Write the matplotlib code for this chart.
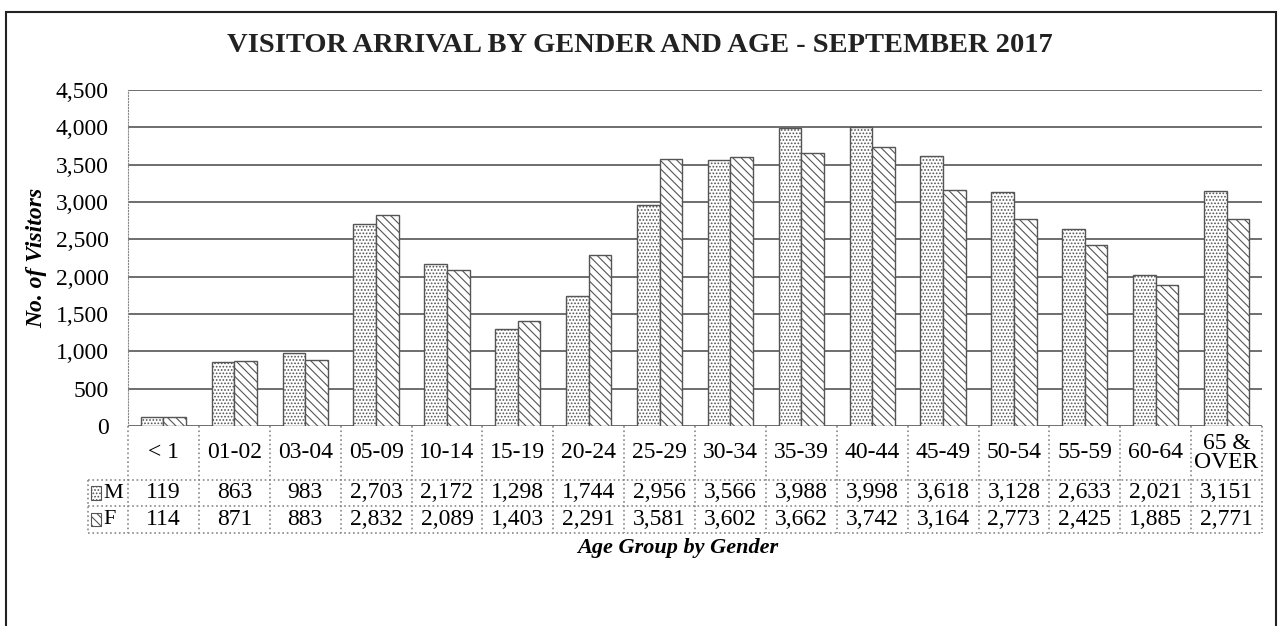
import numpy as np
import matplotlib.pyplot as plt
from matplotlib.patches import Rectangle

# Visitor arrival by gender and age, Sept 2017

categories = ['< 1', '01-02', '03-04', '05-09', '10-14', '15-19', '20-24', '25-29',
              '30-34', '35-39', '40-44', '45-49', '50-54', '55-59', '60-64', '65 &\nOVER']
male = [119, 863, 983, 2703, 2172, 1298, 1744, 2956, 3566, 3988, 3998, 3618, 3128, 2633, 2021, 3151]
female = [114, 871, 883, 2832, 2089, 1403, 2291, 3581, 3602, 3662, 3742, 3164, 2773, 2425, 1885, 2771]
series_names = ['M', 'F']

plt.rcParams['font.family'] = ['Liberation Serif', 'DejaVu Serif']
plt.rcParams['hatch.linewidth'] = 0.8

fig = plt.figure(figsize=(12.79, 6.26), dpi=100)
ax = fig.add_axes([128/1279, 1-426/626, 1134/1279, 336/626])

x = np.arange(len(categories))
w = 0.32
hatches = ['.....', '\\\\\\\\']
for i, (vals, h) in enumerate(zip([male, female], hatches)):
    ax.bar(x + (i - 0.5)*w, vals, w, facecolor='white', edgecolor='#555555',
           hatch=h, linewidth=1.0, zorder=3)

ax.set_xlim(-0.5, len(categories)-0.5)
ax.set_ylim(0, 4500)
ax.set_yticks(np.arange(0, 4501, 500))
ax.set_yticklabels([f'{v:,}' for v in range(0, 4501, 500)], fontsize=17)
ax.set_xticks([])
ax.tick_params(axis='y', length=0, pad=14)
ax.grid(axis='y', color='#555555', linewidth=1.2, zorder=0)
for s in ['top', 'right', 'bottom']:
    ax.spines[s].set_visible(False)
ax.spines['left'].set_color('#888888')
ax.spines['left'].set_linestyle(':')

ax.set_ylabel('No. of Visitors', fontsize=17, fontstyle='italic', fontweight='bold', labelpad=6)
fig.text(0.5, 1-45/626, 'VISITOR ARRIVAL BY GENDER AND AGE - SEPTEMBER 2017',
         ha='center', va='center', fontsize=20.5, fontweight='bold', color='#222222')

# data table below plot (axes coords for y, data coords for x)
tr = ax.get_xaxis_transform()
h0 = 0
h1 = -54/336
h2 = -80/336
h3 = -107/336
xl = -0.5 - 40/1134*len(categories)
lc = '#888888'
ls = ':'
for yy in [h1, h2, h3]:
    ax.plot([xl, len(categories)-0.5], [yy, yy], color=lc, lw=1.2,
            ls=ls, transform=tr, clip_on=False)
ax.plot([xl, xl], [h1, h3], color=lc, lw=1.2, ls=ls, transform=tr, clip_on=False)
for k in range(len(categories)+1):
    ax.plot([k-0.5, k-0.5], [h0, h3], color=lc, lw=1.2, ls=ls, transform=tr, clip_on=False)

for k, c in enumerate(categories):
    ax.text(k, (h0+h1)/2, c, ha='center', va='center', fontsize=17, transform=tr,
            linespacing=0.9)
    ax.text(k, (h1+h2)/2, f'{male[k]:,}', ha='center', va='center', fontsize=17, transform=tr)
    ax.text(k, (h2+h3)/2, f'{female[k]:,}', ha='center', va='center', fontsize=17, transform=tr)

# legend keys inside table row labels
for name, h, ya, yb in [(series_names[0], hatches[0], h1, h2), (series_names[1], hatches[1], h2, h3)]:
    ym = (ya+yb)/2
    ax.add_patch(Rectangle((xl+0.04, ym-0.02), 0.15, 0.04, transform=tr, clip_on=False,
                           facecolor='white', edgecolor='#555555', hatch=h, lw=0.8))
    ax.text(xl+0.21, ym, name, ha='left', va='center', fontsize=16, transform=tr)

fig.text(678/1279, 1-548/626, 'Age Group by Gender', ha='center', va='center',
         fontsize=16, fontstyle='italic', fontweight='bold')

# outer frame
fig.add_artist(Rectangle((6/1279, -0.05), 1270/1279, 1.05-12/626, transform=fig.transFigure,
                         fill=False, edgecolor='#222222', lw=1.5))

fig.savefig('out.png', dpi=100)
